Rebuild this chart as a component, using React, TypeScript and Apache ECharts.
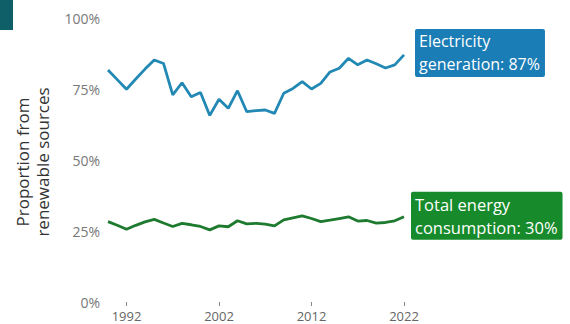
import React, { useEffect, useRef } from "react";
import * as echarts from "echarts";

const years: string[] = [];
for (let y = 1990; y <= 2022; y++) years.push(String(y));

const electricity = [
  81.7, 78.3, 74.9, 78.5, 82.0, 85.2, 84.0, 72.9, 77.2, 72.3, 73.8, 65.7, 71.4,
  68.2, 74.4, 67.0, 67.4, 67.6, 66.4, 73.5, 75.2, 77.6, 75.0, 77.0, 81.0, 82.3,
  85.8, 83.5, 85.2, 83.9, 82.4, 83.5, 87.0,
];

const totalEnergy = [
  28.3, 27.0, 25.6, 27.0, 28.2, 29.1, 27.8, 26.6, 27.7, 27.2, 26.6, 25.4, 26.8,
  26.5, 28.6, 27.5, 27.7, 27.4, 26.8, 28.9, 29.6, 30.3, 29.4, 28.3, 28.8, 29.4,
  30.0, 28.5, 28.7, 27.8, 28.0, 28.6, 30.0,
];

const yTicks = [0, 25, 50, 75, 100];
const tickYears = ["1992", "2002", "2012", "2022"];

const FONT = "'Open Sans', 'DejaVu Sans', sans-serif";

export default function App() {
  const ref = useRef<HTMLDivElement>(null);
  useEffect(() => {
    if (!ref.current) return;
    const chart = echarts.init(ref.current, undefined, { renderer: "svg" });
    chart.setOption({
      animation: false,
      backgroundColor: "#ffffff",
      textStyle: { fontFamily: FONT },
      grid: { left: 108, right: 166, top: 18, bottom: 22, containLabel: false },
      xAxis: {
        type: "category",
        data: years,
        boundaryGap: false,
        axisLine: { show: false },
        axisTick: {
          show: true,
          length: 4,
          lineStyle: { color: "#888", width: 1 },
          interval: (_i: number, v: string) => tickYears.includes(v),
        },
        axisLabel: {
          interval: (_i: number, v: string) => tickYears.includes(v),
          color: "#666",
          fontSize: 13,
          lineHeight: 14,
          fontFamily: FONT,
          margin: 7,
        },
        splitLine: { show: false },
      },
      yAxis: {
        type: "value",
        min: yTicks[0],
        max: yTicks[yTicks.length - 1],
        interval: 25,
        axisLine: { show: false },
        axisTick: { show: false },
        splitLine: { show: false },
        axisLabel: {
          formatter: "{value}%",
          color: "#777",
          fontSize: 14,
          fontFamily: FONT,
          margin: 8,
        },
      },
      graphic: [
        {
          type: "rect",
          shape: { x: 0, y: 0, width: 13, height: 30 },
          style: { fill: "#0e5f68" },
        },
        {
          type: "text",
          x: 32,
          y: 162,
          rotation: Math.PI / 2,
          style: {
            text: "Proportion from\nrenewable sources",
            fontSize: 17,
            fontWeight: 500,
            fontFamily: FONT,
            fill: "#333",
            align: "center",
            verticalAlign: "middle",
            lineHeight: 20,
          },
        },
      ],
      series: [
        {
          type: "line",
          data: electricity,
          symbol: "none",
          lineStyle: { color: "#2288b4", width: 2.8 },
          endLabel: {
            show: true,
            formatter: "Electricity\ngeneration: 87%",
            color: "#fff",
            fontSize: 16,
            fontFamily: FONT,
            lineHeight: 23,
            backgroundColor: "#1a7db5",
            padding: [1, 5, 1, 4],
            borderRadius: 2,
            offset: [3, -2],
            align: "left",
          },
        },
        {
          type: "line",
          data: totalEnergy,
          symbol: "none",
          lineStyle: { color: "#1d7a2e", width: 2.8 },
          endLabel: {
            show: true,
            formatter: "Total energy\nconsumption: 30%",
            color: "#fff",
            fontSize: 16.5,
            fontFamily: FONT,
            lineHeight: 23,
            backgroundColor: "#178a2b",
            padding: [1, 5, 1, 4],
            borderRadius: 2,
            offset: [-1, -1],
            align: "left",
          },
        },
      ],
    });
    return () => chart.dispose();
  }, []);
  return (
    <div
      ref={ref}
      style={{ position: "fixed", left: 0, top: 0, width: 570, height: 324 }}
    />
  );
}
